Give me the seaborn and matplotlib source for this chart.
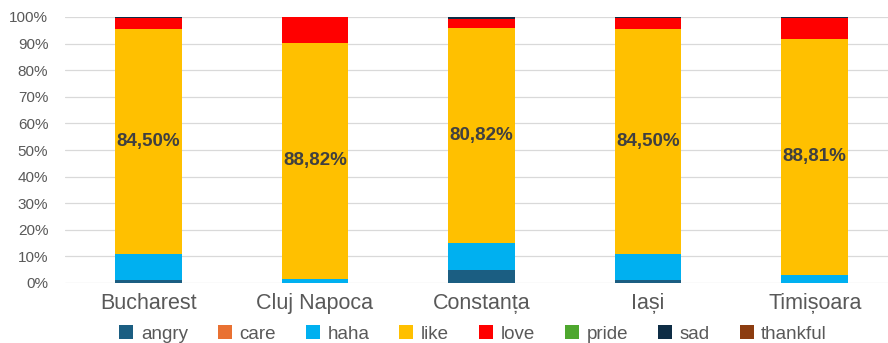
import matplotlib
matplotlib.use("Agg")
import matplotlib.pyplot as plt
from matplotlib.patches import Patch
from matplotlib.ticker import PercentFormatter
import numpy as np
import seaborn as sns

cities = ["Bucharest", "Cluj Napoca", "Constanța", "Iași", "Timișoara"]
reactions = ["angry", "care", "haha", "like", "love", "pride", "sad", "thankful"]

# share of each reaction per city, in percent
angry = [1.2, 0.0, 4.8, 1.2, 0.0]
care = [0.0, 0.0, 0.0, 0.0, 0.0]
haha = [9.7, 1.5, 10.2, 9.7, 3.0]
like = [84.50, 88.82, 80.82, 84.50, 88.81]
love = [4.4, 9.68, 3.4, 4.4, 7.99]
pride = [0.0, 0.0, 0.0, 0.0, 0.0]
sad = [0.2, 0.0, 0.78, 0.2, 0.2]
thankful = [0.0, 0.0, 0.0, 0.0, 0.0]

series = [angry, care, haha, like, love, pride, sad, thankful]
colors = ["#1B5E82", "#E97132", "#00B0F0", "#FFC000", "#FF0000",
          "#4EA72E", "#0E2D45", "#8C3C10"]

sns.set_theme(style="white")
plt.rcParams["font.family"] = ["Liberation Sans", "DejaVu Sans"]

fig = plt.figure(figsize=(8.88, 3.43), dpi=100)
ax = fig.add_axes([65 / 888, 60 / 343, 833 / 888, 266 / 343])

bottom = np.zeros(len(cities))
for name, vals, col in zip(reactions, series, colors):
    vals = np.array(vals, dtype=float)
    sns.barplot(x=cities, y=vals, bottom=bottom, color=col, width=0.4,
                ax=ax, linewidth=0, saturation=1)
    if name == "like":
        for i, v in enumerate(vals):
            ax.text(i, bottom[i] + v / 2, f"{v:.2f}%".replace(".", ","),
                    ha="center", va="center", fontsize=13.5, fontweight="bold",
                    color="#404040")
    bottom += vals

ax.set_ylim(0, 100)
ax.set_xlim(-0.5, len(cities) - 0.5)
ax.set_yticks(np.arange(0, 101, 10))
ax.yaxis.set_major_formatter(PercentFormatter(decimals=0))
ax.yaxis.grid(True, color="#D9D9D9", linewidth=0.9)
ax.set_axisbelow(True)
for s in ax.spines.values():
    s.set_visible(False)
ax.tick_params(axis="y", length=0, pad=12, labelsize=11, labelcolor="#595959")
ax.tick_params(axis="x", length=0, pad=7, labelsize=15.5, labelcolor="#595959")
ax.set_xlabel("")
ax.set_ylabel("")

handles = [Patch(facecolor=c, edgecolor="none", label=r)
           for r, c in zip(reactions, colors)]
fig.legend(handles=handles, loc="center", bbox_to_anchor=(473 / 888, 9 / 343),
           ncol=8, frameon=False, fontsize=13.5, handlelength=0.75,
           handleheight=0.75, handletextpad=0.4, columnspacing=1.6,
           labelcolor="#595959", borderaxespad=0)

fig.savefig("out.png", dpi=100)
